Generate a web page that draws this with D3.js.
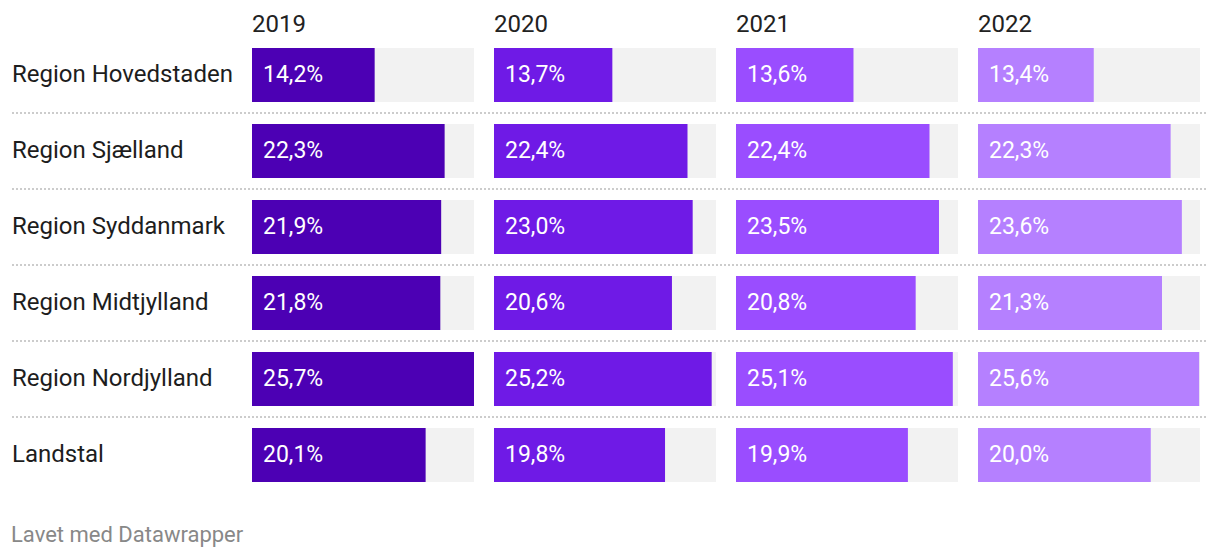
<!DOCTYPE html>
<html><head><meta charset="utf-8">
<script src="https://cdn.jsdelivr.net/npm/d3@7"></script>
<style>body{margin:0;background:#fff;font-family:Roboto,sans-serif;}</style>
</head><body>
<svg id="c" width="1220" height="558"></svg>
<script>
const regions = ["Region Hovedstaden","Region Sjælland","Region Syddanmark","Region Midtjylland","Region Nordjylland","Landstal"];
const years = ["2019","2020","2021","2022"];
const v2019 = [14.2,22.3,21.9,21.8,25.7,20.1];
const v2020 = [13.7,22.4,23.0,20.6,25.2,19.8];
const v2021 = [13.6,22.4,23.5,20.8,25.1,19.9];
const v2022 = [13.4,22.3,23.6,21.3,25.6,20.0];
const series = [v2019,v2020,v2021,v2022];
const colors = ["#4c00b4","#6f1ae6","#9a4dff","#b580ff"];
const footer = "Lavet med Datawrapper";

const svg = d3.select("#c");
const colW = 222, colStep = 242;
const colPos = y => 252 + years.indexOf(y)*colStep;
const rowY = d3.scaleBand().domain(regions).range([48, 48+76*6]).paddingInner(0);
const barH = 54;
const x = d3.scaleLinear().domain([0, d3.max(series.flat())]).range([0, colW]);
const fmt = v => d3.format(".1f")(v).replace(".", ",") + "%";

// headers
svg.selectAll("text.yr").data(years).join("text")
  .attr("x", d => colPos(d)).attr("y", 32)
  .attr("font-size", 24).attr("fill", "#222").text(d => d);

// separators
regions.slice(0, -1).forEach((r, i) => {
  const yy = rowY(r) + barH + 11;
  svg.append("line").attr("x1", 12).attr("x2", 1208).attr("y1", yy).attr("y2", yy)
    .attr("stroke", "#cccccc").attr("stroke-width", 2).attr("stroke-dasharray", "2,2");
});

// row labels
svg.selectAll("text.rl").data(regions).join("text")
  .attr("x", 12).attr("y", d => rowY(d) + barH/2).attr("dy", "0.31em")
  .attr("font-size", 24).attr("fill", "#1d1d1d").text(d => d);

years.forEach((yr, j) => {
  const g = svg.append("g").attr("transform", `translate(${colPos(yr)},0)`);
  g.selectAll("rect.bg").data(regions).join("rect")
    .attr("x", 0).attr("y", d => rowY(d)).attr("width", colW).attr("height", barH).attr("fill", "#f2f2f2");
  g.selectAll("rect.bar").data(series[j]).join("rect")
    .attr("x", 0).attr("y", (d, i) => rowY(regions[i])).attr("width", d => x(d)).attr("height", barH).attr("fill", colors[j]);
  g.selectAll("text.val").data(series[j]).join("text")
    .attr("x", 11).attr("y", (d, i) => rowY(regions[i]) + barH/2).attr("dy", "0.29em")
    .attr("font-size", 23).attr("fill", "#fff").text(d => fmt(d));
});

svg.append("text").attr("x", 11).attr("y", 542).attr("font-size", 22).attr("fill", "#888").text(footer);
</script>
</body></html>
